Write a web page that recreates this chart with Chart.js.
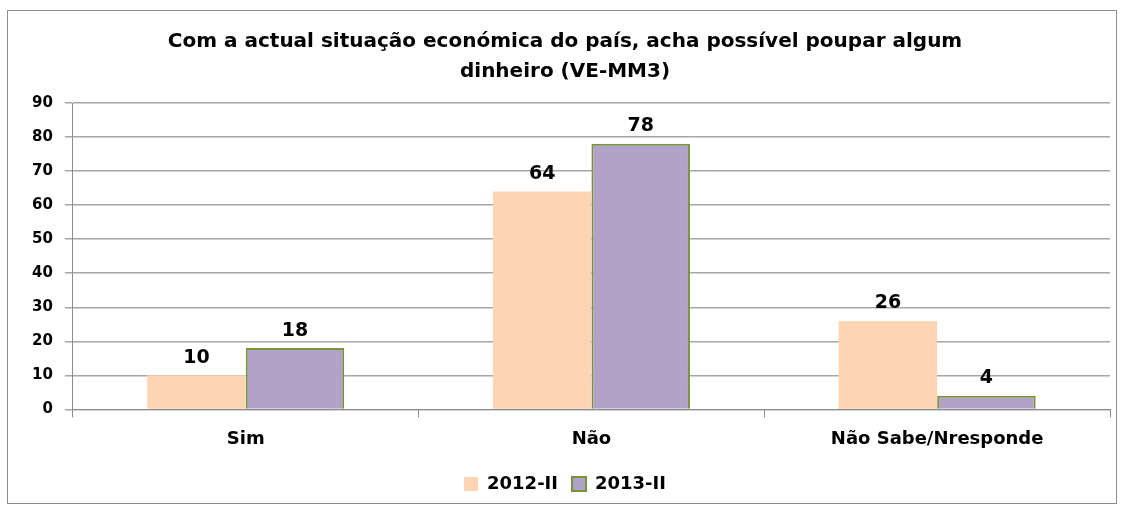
<!DOCTYPE html>
<html>
<head>
<meta charset="utf-8">
<script src="https://cdn.jsdelivr.net/npm/chart.js@4/dist/chart.umd.min.js"></script>
<style>
  html, body { margin: 0; padding: 0; background: #fff; }
  #box {
    position: absolute; left: 7px; top: 10px;
    width: 1110px; height: 494px;
    border: 1px solid #8c8c8c; box-sizing: border-box;
  }
  canvas { display: block; }
</style>
</head>
<body>
<div id="box"><canvas id="chart"></canvas></div>
<script>
// chart data
const categories = ['Sim', 'Não', 'Não Sabe/Nresponde'];
const series2012 = [10, 64, 26];
const series2013 = [18, 78, 4];
const yTicks = [0, 10, 20, 30, 40, 50, 60, 70, 80, 90];

const fontFamily = "'DejaVu Sans', 'Open Sans', sans-serif";

// draws the value above each bar
const barValues = {
  id: 'barValues',
  afterDatasetsDraw(chart) {
    const ctx = chart.ctx;
    ctx.save();
    ctx.font = 'bold 19px ' + fontFamily;
    ctx.fillStyle = '#000';
    ctx.textAlign = 'center';
    ctx.textBaseline = 'bottom';
    chart.data.datasets.forEach((ds, i) => {
      chart.getDatasetMeta(i).data.forEach((bar, j) => {
        ctx.fillText(ds.data[j], bar.x, bar.y - 8);
      });
    });
    ctx.restore();
  }
};

new Chart(document.getElementById('chart'), {
  type: 'bar',
  data: {
    labels: categories,
    datasets: [
      {
        label: '2012-II',
        data: series2012,
        backgroundColor: '#fcd5b5',
        borderWidth: 0
      },
      {
        label: '2013-II',
        data: series2013,
        backgroundColor: '#b2a2c7',
        borderColor: '#77933c',
        borderWidth: 2
      }
    ]
  },
  options: {
    responsive: true,
    maintainAspectRatio: false,
    animation: false,
    categoryPercentage: 0.57,
    barPercentage: 1.0,
    layout: { padding: { left: 12, right: 6, top: 6, bottom: 0 } },
    plugins: {
      title: {
        display: true,
        text: ['Com a actual situação económica do país, acha possível poupar algum', 'dinheiro (VE-MM3)'],
        color: '#000',
        font: { family: fontFamily, size: 20, weight: 'bold', lineHeight: 1.5 },
        padding: { top: 10, bottom: 16 }
      },
      legend: {
        position: 'bottom',
        labels: {
          color: '#000',
          font: { family: fontFamily, size: 18, weight: 'bold' },
          boxWidth: 14,
          boxHeight: 14,
          padding: 14
        }
      },
      tooltip: { enabled: false }
    },
    scales: {
      x: {
        grid: { drawOnChartArea: false, drawTicks: true, tickLength: 8, color: '#8c8c8c' },
        border: { color: '#8c8c8c' },
        ticks: { color: '#000', font: { family: fontFamily, size: 18, weight: 'bold' }, padding: 11 }
      },
      y: {
        min: 0,
        max: 90,
        afterBuildTicks(axis) { axis.ticks = yTicks.map(v => ({ value: v })); },
        grid: { color: '#a6a6a6', tickLength: 8, lineWidth: 1.5 },
        border: { color: '#8c8c8c' },
        ticks: { color: '#000', font: { family: fontFamily, size: 15, weight: 'bold' }, padding: 12 }
      }
    }
  },
  plugins: [barValues]
});
</script>
</body>
</html>
